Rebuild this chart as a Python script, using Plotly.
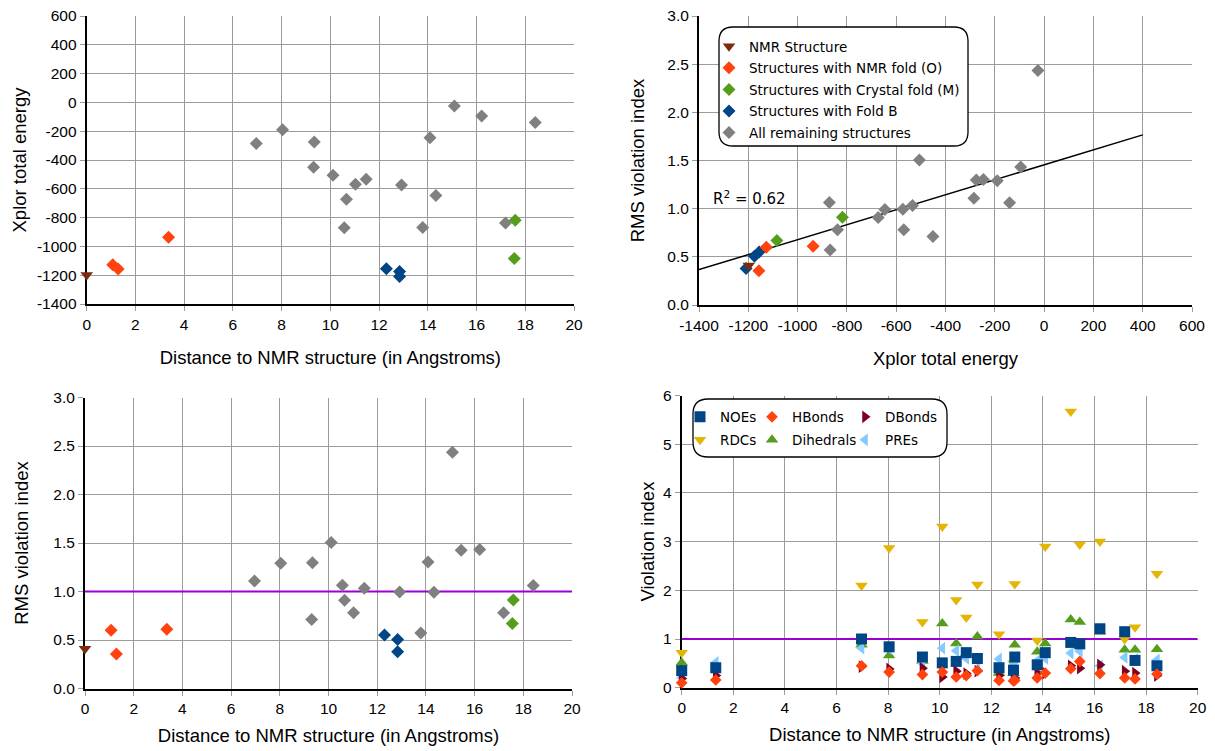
import numpy as np
import plotly.graph_objects as go

# ------------------------------------------------------------------ data
# NMR structure
nmr_dist = [0.00]
nmr_energy = [-1198]
nmr_rms = [0.41]
# Structures with NMR fold (O)
nmrfold_dist = [1.07, 1.29, 3.36]
nmrfold_energy = [-1127, -1157, -937]
nmrfold_rms = [0.60, 0.355, 0.61]
# Structures with Crystal fold (M)
cryst_dist = [17.59, 17.55]
cryst_energy = [-818, -1084]
cryst_rms = [0.912, 0.669]
# Structures with Fold B
foldb_dist = [12.30, 12.84, 12.84]
foldb_energy = [-1156, -1175, -1209]
foldb_rms = [0.551, 0.506, 0.380]
# All remaining structures
rest_dist = [6.96, 8.04, 9.34, 9.31, 10.11, 10.57, 10.66, 11.03, 11.47, 12.92,
             13.79, 14.09, 14.33, 15.09, 15.45, 16.21, 17.19, 18.41]
rest_energy = [-285, -190, -275, -451, -506, -871, -673, -569, -534, -573,
               -868, -246, -646, -25, None, -95, -838, -140]
rest_rms = [1.107, 1.29, 1.297, 0.711, 1.505, 1.065, 0.909, 0.78, 1.034, 0.995,
            0.572, 1.304, 0.992, 2.435, 1.426, 1.432, 0.78, 1.061]

# Violation indices per restraint type (bottom-right panel)
viol_dist = [0.00, 1.32, 6.97, 8.04, 9.33, 10.10, 10.64, 11.03, 11.46, 12.30,
             12.86, 12.91, 13.78, 14.09, 15.08, 15.43, 16.21, 17.17, 17.57, 18.42]
noe_viol = [0.35, 0.41, 1.00, 0.84, 0.63, 0.51, 0.54, 0.72, 0.60, 0.41,
            0.36, 0.63, 0.47, 0.72, 0.93, 0.90, 1.21, 1.15, 0.56, 0.45]
rdc_viol = [0.72, None, 2.10, 2.87, 1.35, 3.31, 1.80, 1.44, 2.12, 1.10,
            0.50, 2.13, 0.97, 2.90, 5.67, 2.94, 3.00, 1.00, 1.24, 2.34]
dihedral_viol = [0.51, None, 0.88, 0.66, 0.55, 1.32, 0.91, 0.70, 1.05, 0.30,
                 0.30, 0.88, 0.74, 0.91, 1.40, 1.35, 1.15, 0.78, 0.78, 0.79]
hbond_viol = [0.10, 0.16, 0.45, 0.32, 0.27, 0.32, 0.22, 0.25, 0.35, 0.15,
              0.14, 0.15, 0.20, 0.30, 0.39, 0.54, 0.29, 0.20, 0.18, 0.28]
dbond_viol = [0.19, 0.25, 0.43, 0.385, 0.40, 0.22, 0.34, 0.29, 0.34, 0.25,
              0.20, 0.20, 0.30, 0.30, 0.45, 0.40, 0.47, 0.34, 0.30, 0.25]
pre_viol = [0.20, 0.52, 0.81, 0.80, 0.50, 0.81, 0.76, 0.60, 0.55, 0.59,
            0.45, 0.50, 0.55, 0.60, 0.71, 0.75, 0.45, 0.62, 0.58, 0.57]

# linear trend of RMS violation index vs energy, as drawn in the chart
trend_slope = 0.000777
trend_intercept = 1.455
trend_range = [-1400, 400]
r_squared_text = "R<sup>2</sup> = 0.62"
rms_threshold = 1.0

# tick labels
dist_ticks = [0, 2, 4, 6, 8, 10, 12, 14, 16, 18, 20]
dist_ticklabels = ["0", "2", "4", "6", "8", "10", "12", "14", "16", "18", "20"]
energy_ticks = [-1400, -1200, -1000, -800, -600, -400, -200, 0, 200, 400, 600]
energy_ticklabels = ["-1400", "-1200", "-1000", "-800", "-600", "-400", "-200",
                     "0", "200", "400", "600"]
rms_ticks = [0.0, 0.5, 1.0, 1.5, 2.0, 2.5, 3.0]
rms_ticklabels = ["0.0", "0.5", "1.0", "1.5", "2.0", "2.5", "3.0"]
viol_ticks = [0, 1, 2, 3, 4, 5, 6]
viol_ticklabels = ["0", "1", "2", "3", "4", "5", "6"]

# ------------------------------------------------------------------ style
W, H = 1215, 751
GRID = "#9c9c9c"
TICKFONT = dict(family="Liberation Sans", size=15.5, color="black")
TITLEFONT = dict(family="Liberation Sans", size=18.5, color="black")
LEGFONT = dict(family="DejaVu Sans", size=13.5, color="black")


def dom_x(left, right):
    return [left / W, right / W]


def dom_y(top, bottom):
    return [1 - bottom / H, 1 - top / H]


groups = [
    # name, dist, energy, rms, color, symbol, size, legend rank
    ("All remaining structures", rest_dist, rest_energy, rest_rms, "#808080", "diamond", 10, 5),
    ("Structures with Fold B", foldb_dist, foldb_energy, foldb_rms, "#004586", "diamond", 10, 4),
    ("Structures with Crystal fold (M)", cryst_dist, cryst_energy, cryst_rms, "#579d1c", "diamond", 10, 3),
    ("Structures with NMR fold (O)", nmrfold_dist, nmrfold_energy, nmrfold_rms, "#ff420e", "diamond", 10, 2),
    ("NMR Structure", nmr_dist, nmr_energy, nmr_rms, "#7b2b10", "triangle-down", 11, 1),
]

fig = go.Figure()

# threshold lines (bottom panels) drawn first so markers sit on top
for xa, ya in (("x3", "y3"), ("x4", "y4")):
    fig.add_trace(go.Scatter(x=[dist_ticks[0], dist_ticks[-1]], y=[rms_threshold, rms_threshold],
                             mode="lines", line=dict(color="#9b00d3", width=2),
                             xaxis=xa, yaxis=ya, showlegend=False, hoverinfo="skip"))

tx = np.array(trend_range, dtype=float)
fig.add_trace(go.Scatter(x=tx, y=trend_slope * tx + trend_intercept, mode="lines",
                         line=dict(color="black", width=1.5),
                         xaxis="x2", yaxis="y2", showlegend=False, hoverinfo="skip"))

for name, d, e, r, col, sym, sz, rank in groups:
    mk = dict(color=col, symbol=sym, size=sz, line=dict(width=0))
    fig.add_trace(go.Scatter(x=d, y=e, mode="markers", marker=mk, xaxis="x", yaxis="y",
                             showlegend=False, name=name, cliponaxis=False))
    fig.add_trace(go.Scatter(x=e, y=r, mode="markers", marker=mk, xaxis="x2", yaxis="y2",
                             showlegend=True, name=name, legend="legend",
                             legendrank=rank, legendgroup=name, cliponaxis=False))
    fig.add_trace(go.Scatter(x=d, y=r, mode="markers", marker=mk, xaxis="x3", yaxis="y3",
                             showlegend=False, name=name, cliponaxis=False))

viol_series = [
    # name, values, color, symbol, size, legend, rank, legend width
    ("RDCs", rdc_viol, "#e3b505", "triangle-down", 11, "legend3", 1, 27),
    ("Dihedrals", dihedral_viol, "#579d1c", "triangle-up", 11, "legend3", 2, 48),
    ("PREs", pre_viol, "#83caff", "triangle-left", 11, "legend3", 3, 60),
    ("DBonds", dbond_viol, "#7e0021", "triangle-right", 11, "legend2", 3, 60),
    ("NOEs", noe_viol, "#004586", "square", 11, "legend2", 1, 27),
    ("HBonds", hbond_viol, "#ff420e", "diamond", 9, "legend2", 2, 48),
]
for name, vals, col, sym, sz, leg, rank, lw in viol_series:
    fig.add_trace(go.Scatter(x=viol_dist, y=vals, mode="markers", name=name,
                             marker=dict(color=col, symbol=sym, size=sz, line=dict(width=0)),
                             xaxis="x4", yaxis="y4", legend=leg, legendrank=rank,
                             legendwidth=lw, cliponaxis=False))

fig.add_annotation(x=-1350, y=1.11, xref="x2", yref="y2", text=r_squared_text,
                   showarrow=False, xanchor="left", yanchor="middle",
                   font=dict(family="DejaVu Sans", size=15, color="black"))


def rounded_box(x0, y0, x1, y1, r):
    def P(x, y):
        return f"{x / W:.5f},{1 - y / H:.5f}"
    return ("M " + P(x0 + r, y0) + " L " + P(x1 - r, y0) + " Q " + P(x1, y0) + " " + P(x1, y0 + r)
            + " L " + P(x1, y1 - r) + " Q " + P(x1, y1) + " " + P(x1 - r, y1)
            + " L " + P(x0 + r, y1) + " Q " + P(x0, y1) + " " + P(x0, y1 - r)
            + " L " + P(x0, y0 + r) + " Q " + P(x0, y0) + " " + P(x0 + r, y0) + " Z")


shapes = [
    dict(type="path", path=rounded_box(719, 27, 968, 146, 14), xref="paper", yref="paper",
         line=dict(color="black", width=1.3), fillcolor="white", layer="above"),
    dict(type="path", path=rounded_box(693, 399, 947, 457, 15), xref="paper", yref="paper",
         line=dict(color="black", width=1.3), fillcolor="white", layer="above"),
]


def axis(domain, ticks, labels, rng, title, standoff, anchor):
    return dict(domain=domain, range=rng, tickmode="array", tickvals=ticks, ticktext=labels,
                showgrid=True, gridcolor=GRID, gridwidth=1.2, zeroline=False,
                showline=True, linecolor="black", linewidth=2, layer="below traces",
                ticks="outside", ticklen=5, tickcolor=GRID, tickwidth=1,
                tickfont=TICKFONT, automargin=False, anchor=anchor,
                title=dict(text=title, font=TITLEFONT, standoff=standoff))


dist_title = "Distance to NMR structure (in Angstroms)"
fig.update_layout(
    width=W, height=H, autosize=False,
    margin=dict(l=0, r=0, t=0, b=0),
    paper_bgcolor="white", plot_bgcolor="white",
    xaxis=axis(dom_x(86.7, 574), dist_ticks, dist_ticklabels, [0, 20], dist_title, 19, "y"),
    yaxis=axis(dom_y(16, 304), energy_ticks, energy_ticklabels, [-1400, 600], "Xplor total energy", 5, "x"),
    xaxis2=axis(dom_x(699, 1192), energy_ticks, energy_ticklabels, [-1400, 600], "Xplor total energy", 19, "y2"),
    yaxis2=axis(dom_y(16, 305), rms_ticks, rms_ticklabels, [0, 3], "RMS violation index", 18, "x2"),
    xaxis3=axis(dom_x(85, 572), dist_ticks, dist_ticklabels, [0, 20], dist_title, 13, "y3"),
    yaxis3=axis(dom_y(397.5, 688.5), rms_ticks, rms_ticklabels, [0, 3], "RMS violation index", 20, "x3"),
    xaxis4=axis(dom_x(681.7, 1197.7), dist_ticks, dist_ticklabels, [0, 20], dist_title, 13, "y4"),
    yaxis4=axis(dom_y(395.5, 687.7), viol_ticks, viol_ticklabels, [0, 6], "Violation index", 3, "x4"),
    legend=dict(x=709 / W, y=1 - 31 / H, xanchor="left", yanchor="top",
                bgcolor="rgba(0,0,0,0)", borderwidth=0, font=LEGFONT, tracegroupgap=1),
    legend2=dict(x=680 / W, y=1 - 401.5 / H, xanchor="left", yanchor="top", orientation="h",
                 bgcolor="rgba(0,0,0,0)", borderwidth=0, font=LEGFONT),
    legend3=dict(x=680 / W, y=1 - 424.5 / H, xanchor="left", yanchor="top", orientation="h",
                 bgcolor="rgba(0,0,0,0)", borderwidth=0, font=LEGFONT),
    shapes=shapes,
)

fig.write_html("out.html", config={"displayModeBar": False},
               post_script="document.body.style.margin='0px';")
